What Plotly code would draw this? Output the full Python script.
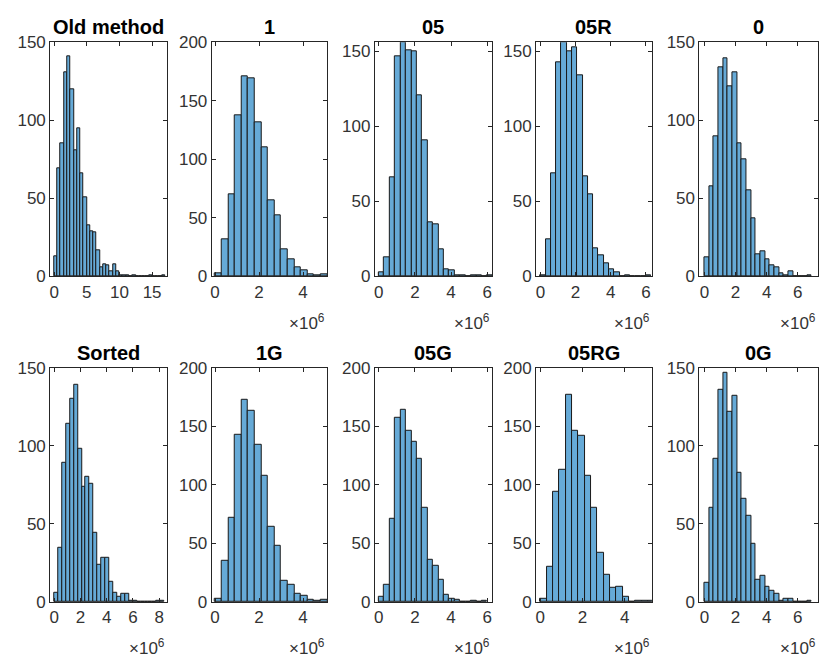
import plotly.graph_objects as go

W, H = 819, 668

# ---------------- data (counts per bin) ----------------
titles = ["Old method", "1", "05", "05R", "0", "Sorted", "1G", "05G", "05RG", "0G"]
bin_width = [0.5, 0.3, 0.3, 0.3, 0.3, 0.3, 0.3, 0.3, 0.3, 0.3]
counts_old = [13, 69, 85, 131, 141, 120, 81, 95, 66, 51, 33, 29, 28, 17, 6, 8, 7, 3, 8, 3,
              1, 1, 1, 0, 1, 0, 0, 0, 0, 1, 0, 0, 0, 1]
counts_1 = [3, 32, 70, 138, 171, 169, 132, 110, 65, 52, 23, 15, 8, 5, 2, 1, 2]
counts_05 = [3, 13, 66, 147, 156, 151, 150, 121, 91, 36, 35, 18, 5, 4, 1, 1, 0, 1, 1, 0, 1]
counts_05R = [1, 25, 69, 143, 156, 150, 153, 134, 67, 55, 19, 14, 9, 5, 3, 0, 1, 0, 0, 0, 1]
counts_0 = [12, 58, 90, 134, 140, 122, 131, 85, 75, 55, 37, 14, 16, 11, 7, 6, 2, 1, 3, 0, 0, 0, 1]
counts_sorted = [6, 35, 89, 114, 130, 139, 98, 74, 80, 76, 44, 24, 28, 28, 13, 6, 3, 5, 5, 1,
                 1, 0, 0, 0, 0, 0, 1, 1]
counts_1G = [3, 35, 72, 143, 173, 163, 134, 108, 64, 48, 18, 15, 7, 5, 2, 1, 2]
counts_05G = [4, 15, 71, 157, 164, 146, 137, 122, 80, 36, 31, 19, 6, 3, 2, 0, 0, 1, 0, 1]
counts_05RG = [3, 30, 94, 113, 177, 146, 142, 108, 80, 42, 23, 12, 13, 4, 0, 1, 1, 1]
counts_0G = [12, 60, 92, 136, 147, 122, 132, 83, 66, 55, 37, 14, 17, 10, 7, 5, 1, 2, 2, 0, 0, 0, 1]
all_counts = [counts_old, counts_1, counts_05, counts_05R, counts_0,
              counts_sorted, counts_1G, counts_05G, counts_05RG, counts_0G]

x_ranges = [[-0.6, 17.36], [-0.15, 5.1], [-0.22, 6.27], [-0.25, 6.34], [-0.32, 7.28],
            [-0.3, 8.63], [-0.15, 5.1], [-0.22, 6.27], [-0.2, 5.29], [-0.32, 7.28]]
x_ticks = [[0, 5, 10, 15], [0, 2, 4], [0, 2, 4, 6], [0, 2, 4, 6], [0, 2, 4, 6],
           [0, 2, 4, 6, 8], [0, 2, 4], [0, 2, 4, 6], [0, 2, 4], [0, 2, 4, 6]]
y_ranges = [150, 200, 156, 156, 150, 150, 200, 200, 200, 150]
y_ticks = [[0, 50, 100, 150], [0, 50, 100, 150, 200], [0, 50, 100, 150], [0, 50, 100, 150],
           [0, 50, 100, 150], [0, 50, 100, 150], [0, 50, 100, 150, 200],
           [0, 50, 100, 150, 200], [0, 50, 100, 150, 200], [0, 50, 100, 150]]
show_exp = [False, True, True, True, True, True, True, True, True, True]

# ---------------- layout geometry (pixels) ----------------
col_px = [(49.3, 166.7), (211, 326.7), (374.3, 491.7), (535.7, 651.7), (699.3, 817.7)]
row_px = [(34.3, 275.3), (369.3, 610.3)]
title_y_px = [19, 354]
exp_y_px = [322, 657]

FACE = "rgb(102,170,215)"
EDGE = "rgb(25,25,25)"
AXC = "#333333"
FONT = "Liberation Sans, Arial, Helvetica, sans-serif"

fig = go.Figure()
annotations = []
layout_axes = {}

for i in range(10):
    r, c = divmod(i, 5)
    n = i + 1
    xa = "x" if n == 1 else f"x{n}"
    ya = "y" if n == 1 else f"y{n}"
    w = bin_width[i]
    cnt = all_counts[i]
    centers = [w * (k + 0.5) for k in range(len(cnt))]
    fig.add_trace(go.Bar(
        x=centers, y=cnt, width=[w] * len(cnt),
        marker=dict(color=FACE, line=dict(color=EDGE, width=1)),
        xaxis=xa, yaxis=ya, showlegend=False, hoverinfo="x+y",
    ))
    x0, x1 = col_px[c]
    y0, y1 = row_px[r]
    xdom = [x0 / W, x1 / W]
    ydom = [1 - y1 / H, 1 - y0 / H]
    common = dict(showline=True, linecolor="#262626", linewidth=1, mirror="ticks",
                  ticks="inside", ticklen=4, tickcolor="#262626", tickwidth=1,
                  showgrid=False, zeroline=False,
                  tickfont=dict(family=FONT, size=17, color=AXC))
    layout_axes["xaxis" if n == 1 else f"xaxis{n}"] = dict(
        domain=xdom, range=x_ranges[i], tickmode="array", tickvals=x_ticks[i],
        anchor=ya, **common)
    layout_axes["yaxis" if n == 1 else f"yaxis{n}"] = dict(
        domain=ydom, range=[0, y_ranges[i]], tickmode="array", tickvals=y_ticks[i],
        anchor=xa, **common)
    annotations.append(dict(
        text=f"<b>{titles[i]}</b>", xref="paper", yref="paper",
        x=(xdom[0] + xdom[1]) / 2, y=1 - title_y_px[r] / H,
        xanchor="center", yanchor="middle", showarrow=False,
        font=dict(family=FONT, size=20, color="black")))
    if show_exp[i]:
        annotations.append(dict(
            text="×10<sup>6</sup>", xref="paper", yref="paper",
            x=xdom[1], y=1 - exp_y_px[r] / H, xanchor="right", yanchor="middle",
            showarrow=False, font=dict(family=FONT, size=17, color=AXC)))

fig.update_layout(
    width=W, height=H, margin=dict(l=0, r=0, t=0, b=0),
    paper_bgcolor="white", plot_bgcolor="white",
    annotations=annotations, bargap=0, **layout_axes)

fig.write_html("out.html", config={"displayModeBar": False},
               post_script="document.body.style.margin='0';document.body.style.overflow='hidden';")
